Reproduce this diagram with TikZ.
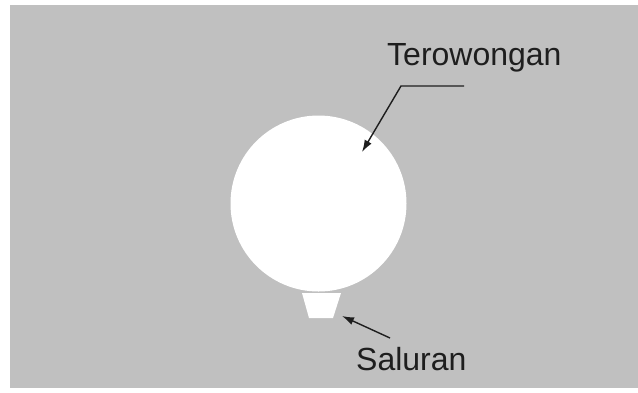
\documentclass[tikz,border=0pt]{standalone}
\usepackage{fontspec}
\setmainfont{Liberation Sans}
\usetikzlibrary{arrows.meta}
\definecolor{bggray}{RGB}{192,192,192}
\definecolor{inkc}{RGB}{30,30,30}
\begin{document}
\begin{tikzpicture}[x=1pt,y=-1pt,
  lbl/.style={inner sep=0pt,font=\fontsize{32pt}{32pt}\selectfont,text=inkc},
  pointer/.style={draw=inkc,line width=1.4pt,-{Latex[length=12pt,width=8pt]}}]
\useasboundingbox (0,0) rectangle (638,392);
\fill[bggray] (10,5) rectangle (638,388);
\node[circle,fill=white,minimum size=176pt,inner sep=0pt] (tunnel) at (318.5,203.5) {};
\fill[white] (302,293) -- (341,293) -- (333,318) -- (309,318) -- cycle;
\coordinate (channel) at (342,316);
\node[lbl,anchor=base west] (terow) at (387,65) {Terowongan};
\node[lbl,anchor=base west] (salur) at (356,370) {Saluran};
\coordinate (t0) at (464,86);
\coordinate (t1) at (401,86);
\coordinate (t2) at (362,152);
\coordinate (s0) at (390,338);
\draw[pointer] (t0) -- (t1) -- (t2);
\draw[pointer] (s0) -- (channel);
\end{tikzpicture}
\end{document}
